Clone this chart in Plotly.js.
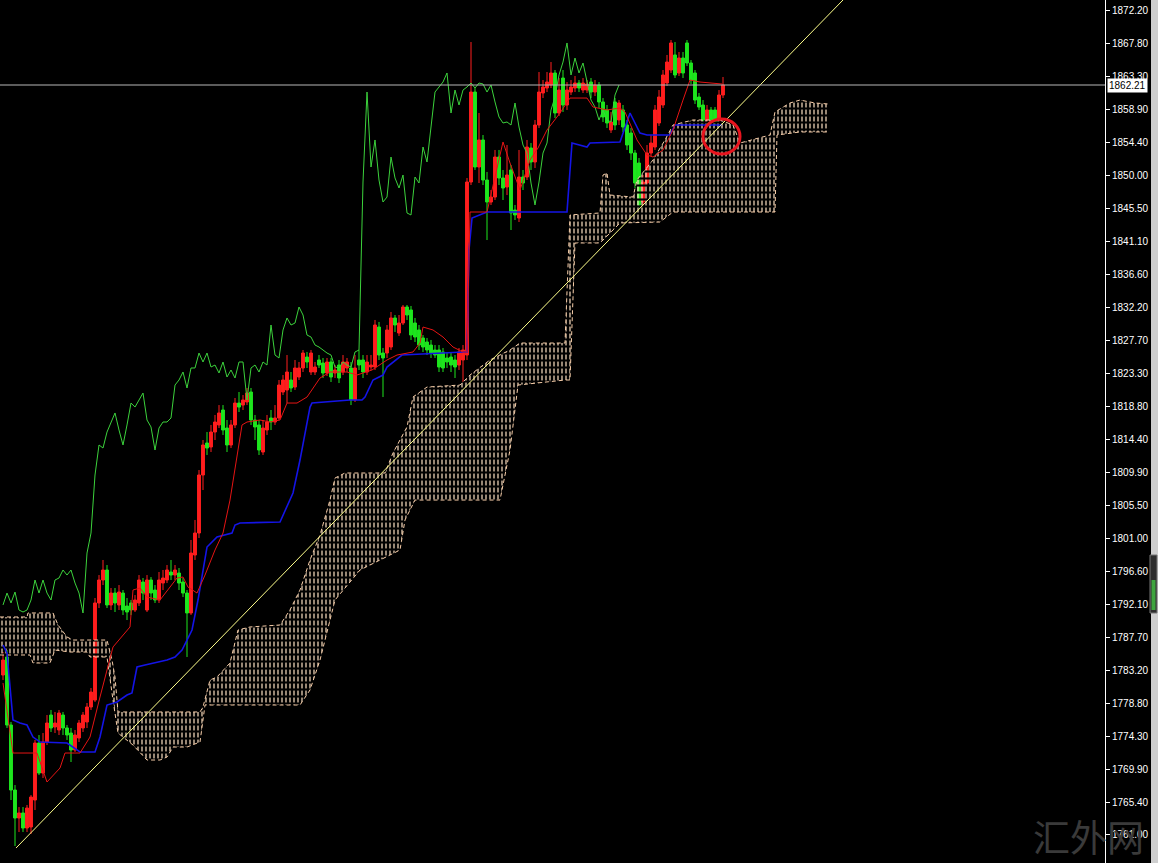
<!DOCTYPE html>
<html>
<head>
<meta charset="utf-8">
<script src="https://cdn.plot.ly/plotly-3.0.1.min.js"></script>
<style>html,body{margin:0;padding:0;background:#000;}#chart{width:1158px;height:863px;}</style>
</head>
<body>
<div id="chart"></div>
<script>
// ---- candle data (bar index = position in arrays) ----
const opens = [1782.59,1785.02,1775.84,1767.07,1763.29,1763.97,1761.94,1762.08,1765.72,1773.41,1769.36,1773.55,1777.19,1775.57,1775.17,1777.19,1775.44,1774.76,1772.47,1774.09,1775.44,1776.25,1778.27,1779.21,1792.31,1795.41,1796.76,1792.04,1793.65,1792.04,1793.65,1791.90,1792.31,1791.36,1792.31,1795.14,1791.36,1795.41,1794.06,1792.71,1795.00,1795.41,1796.49,1796.08,1796.35,1795.14,1793.65,1790.96,1798.78,1801.75,1809.58,1813.90,1813.36,1815.38,1816.33,1818.35,1815.92,1813.63,1816.33,1819.29,1819.02,1819.43,1820.78,1817.00,1816.33,1812.68,1815.65,1817.27,1816.73,1817.27,1820.78,1821.05,1822.40,1821.45,1822.80,1824.02,1825.50,1823.48,1823.48,1825.10,1824.69,1823.34,1824.83,1823.34,1824.42,1823.48,1824.02,1824.02,1819.70,1825.10,1825.10,1823.48,1824.15,1824.15,1829.55,1826.04,1826.04,1826.85,1830.77,1828.74,1830.09,1832.25,1831.85,1830.09,1829.15,1828.07,1827.53,1827.12,1826.45,1826.45,1826.18,1825.37,1825.50,1825.10,1824.42,1825.10,1825.77,1849.12,1861.26,1851.14,1854.79,1849.39,1846.42,1847.09,1852.49,1849.66,1848.44,1850.74,1845.34,1844.26,1849.79,1849.79,1853.71,1851.82,1856.81,1861.13,1861.80,1862.21,1863.83,1858.43,1863.15,1859.51,1861.26,1861.80,1862.48,1861.53,1861.53,1862.61,1861.26,1862.21,1859.92,1858.84,1856.14,1859.92,1857.49,1858.84,1856.81,1855.73,1853.03,1851.68,1846.42,1848.98,1853.03,1853.84,1857.08,1859.51,1862.48,1864.23,1866.26,1863.83,1865.85,1867.88,1865.18,1863.83,1860.59,1859.51,1857.49,1858.84,1858.84,1857.49,1860.86];
const highs = [1785.69,1785.96,1776.25,1767.74,1764.77,1764.77,1765.05,1766.39,1773.82,1774.49,1774.76,1777.19,1777.87,1777.60,1777.87,1777.60,1775.84,1775.44,1775.17,1776.52,1777.60,1778.81,1780.83,1792.98,1796.08,1798.11,1797.43,1794.33,1794.33,1794.73,1794.06,1792.98,1792.71,1793.38,1796.08,1795.68,1796.08,1795.81,1794.73,1796.49,1796.76,1797.43,1798.11,1797.43,1797.03,1795.68,1794.06,1800.81,1803.51,1810.25,1814.30,1815.38,1816.33,1817.68,1819.02,1819.02,1817.00,1817.00,1819.97,1820.78,1820.37,1821.32,1821.32,1817.68,1817.00,1817.00,1817.68,1818.35,1819.02,1822.40,1823.07,1825.77,1823.48,1825.10,1824.83,1826.45,1826.18,1826.45,1824.83,1825.77,1825.37,1825.37,1825.37,1824.42,1825.10,1825.77,1825.37,1824.83,1825.77,1826.45,1825.77,1825.77,1825.77,1830.50,1830.23,1826.72,1829.82,1831.58,1831.17,1831.17,1832.52,1832.52,1832.39,1830.77,1829.82,1828.47,1828.07,1827.80,1827.12,1827.12,1826.72,1826.18,1826.18,1825.77,1826.72,1827.12,1849.66,1868.01,1861.80,1858.43,1855.46,1850.47,1848.04,1853.44,1853.44,1850.74,1854.11,1851.41,1846.02,1853.44,1850.74,1854.79,1854.38,1857.49,1863.96,1862.88,1863.96,1865.31,1864.23,1863.15,1864.23,1862.61,1862.88,1863.42,1862.88,1863.15,1862.88,1863.15,1862.88,1862.61,1860.45,1859.51,1858.57,1860.45,1860.18,1859.51,1857.49,1856.41,1853.44,1852.36,1850.06,1854.11,1855.46,1859.51,1861.53,1864.23,1866.26,1868.28,1868.01,1866.66,1866.66,1868.28,1865.58,1864.23,1861.13,1860.18,1859.51,1859.24,1859.24,1861.53,1863.29];
const lows = [1781.91,1775.44,1765.72,1759.51,1761.40,1761.40,1761.40,1761.13,1764.37,1769.09,1768.69,1773.14,1774.90,1774.76,1774.49,1774.49,1773.82,1770.85,1772.20,1773.55,1774.90,1775.44,1777.87,1778.95,1791.63,1794.73,1791.63,1791.36,1791.09,1791.36,1790.69,1790.01,1790.69,1791.09,1791.90,1792.71,1791.09,1792.71,1792.31,1792.31,1794.06,1795.00,1795.41,1795.41,1794.06,1793.11,1785.02,1790.69,1798.11,1801.08,1807.55,1812.28,1812.68,1814.30,1815.92,1814.98,1812.68,1813.22,1815.92,1818.08,1818.35,1819.02,1816.33,1814.30,1812.28,1812.28,1814.98,1815.65,1816.33,1817.00,1820.37,1819.29,1820.78,1821.05,1822.40,1823.48,1824.02,1823.07,1823.07,1824.02,1822.67,1822.94,1822.13,1822.67,1821.99,1823.07,1823.48,1819.02,1819.43,1823.75,1822.67,1823.07,1823.75,1823.75,1825.10,1820.10,1825.37,1826.45,1828.88,1828.34,1829.82,1830.50,1827.80,1827.53,1826.45,1826.18,1825.77,1825.37,1825.37,1823.48,1823.48,1824.02,1823.48,1822.67,1823.75,1822.13,1825.10,1848.71,1850.74,1848.98,1848.71,1841.29,1846.02,1846.69,1848.71,1846.69,1847.36,1842.64,1843.99,1843.72,1848.04,1849.39,1850.74,1851.01,1856.41,1860.45,1861.26,1861.80,1857.76,1858.03,1858.57,1858.84,1860.86,1861.26,1861.26,1861.13,1861.13,1860.45,1860.72,1859.11,1857.22,1856.41,1855.73,1856.14,1856.81,1855.87,1853.44,1852.09,1848.31,1845.61,1846.02,1848.58,1852.63,1853.44,1856.68,1859.11,1862.07,1863.83,1863.15,1863.42,1863.15,1864.77,1862.34,1859.65,1858.84,1856.95,1857.08,1857.08,1856.81,1857.08,1860.45];
const closes = [1784.61,1775.84,1767.07,1763.29,1763.97,1761.94,1764.64,1766.12,1773.41,1769.36,1773.55,1776.11,1775.44,1776.11,1777.46,1775.44,1774.49,1772.47,1774.49,1776.11,1777.19,1778.27,1780.29,1792.31,1795.41,1796.76,1792.04,1793.65,1792.31,1793.79,1791.36,1791.09,1791.36,1792.71,1795.41,1793.65,1795.41,1793.65,1792.71,1795.41,1795.68,1796.76,1796.08,1796.76,1795.00,1793.65,1790.96,1799.05,1801.75,1809.58,1813.63,1813.22,1815.38,1816.73,1817.95,1815.65,1813.63,1816.33,1819.29,1818.75,1819.70,1820.64,1817.00,1816.06,1812.95,1815.92,1816.73,1816.73,1817.27,1821.72,1822.40,1823.48,1821.32,1824.02,1824.02,1826.04,1824.83,1826.04,1824.15,1824.42,1823.34,1824.83,1822.80,1823.75,1822.67,1824.83,1824.83,1819.70,1824.02,1824.42,1823.48,1824.83,1824.42,1829.82,1825.77,1825.37,1829.15,1830.77,1829.82,1830.09,1832.25,1831.17,1828.47,1828.20,1827.12,1826.85,1826.45,1826.04,1825.77,1824.15,1824.02,1824.83,1824.42,1824.15,1826.18,1826.45,1849.12,1861.26,1851.14,1854.79,1849.39,1846.42,1847.09,1852.49,1849.66,1848.31,1850.06,1844.94,1844.67,1849.79,1848.98,1853.84,1851.82,1856.81,1861.26,1861.94,1862.61,1863.83,1858.43,1861.53,1859.51,1861.53,1861.94,1862.48,1861.80,1862.48,1862.34,1861.26,1862.21,1859.92,1857.89,1857.08,1857.22,1856.81,1859.78,1856.54,1854.11,1853.03,1848.98,1846.02,1849.12,1853.03,1854.38,1858.84,1860.59,1863.56,1865.31,1867.88,1863.56,1865.85,1863.83,1865.18,1862.88,1860.18,1859.24,1857.49,1858.84,1857.49,1857.22,1860.86,1862.21];

// ---- Ichimoku lines (bar index, price) ----
const tenkanX = [0,2.5,8.5,10,11,14.25,15.5,19.25,21.75,24.25,26.75,27.5,31.75,32.5,34.25,36,39.25,41.75,43.5,45,46.25,48.5,50.5,53,55,56.75,58.75,59.75,61,64.25,66.75,69.25,71,73.5,76,77.5,79.25,81.75,86,88.5,92.25,96,98.5,102.5,104.25,105,107.5,110,112.5,115,116,116.75,121,125,126.75,129.25,131.75,133.75,136,139.25,141.75,146,147.5,151,154.25,155.5,158.5,161,162.5,165,167.5,170,171.75,174.25,176.75,179.75];
const tenkanY = [1781.51,1772.06,1772.06,1769.77,1768.15,1770.04,1772.06,1772.06,1774.22,1779.62,1785.02,1786.37,1789.07,1794.06,1794.33,1793.11,1792.71,1794.46,1795.68,1795.81,1794.46,1793.65,1796.08,1799.46,1801.75,1806.20,1812.95,1816.33,1816.73,1817.00,1816.73,1817.00,1819.29,1819.29,1820.10,1821.32,1822.67,1823.48,1823.48,1823.07,1823.75,1825.10,1825.77,1826.18,1827.39,1829.55,1829.15,1828.20,1826.85,1826.18,1826.18,1845.07,1845.07,1854.52,1851.68,1848.04,1852.09,1853.71,1856.14,1858.43,1860.45,1860.45,1859.24,1858.84,1859.11,1858.57,1854.79,1852.76,1852.49,1853.44,1856.14,1860.18,1862.88,1862.61,1862.48,1862.34];
const kijunX = [0,1,2.5,4.25,6,7.5,9.25,16,19.25,23,24.25,26,28.5,31,32.25,33.5,35.5,41,43,44.75,46.25,47.25,48.75,51,53.5,57.25,58,59.25,69.25,71,72.5,74.25,76.75,77.25,86.75,89.75,90.5,92.5,95,96,99.25,99.75,115,116,116.5,117.25,121,141,142.25,146,146.75,154.25,156.75,159.25,161,166.75,168,179.75];
const kijunY = [1786.64,1785.56,1776.52,1776.11,1775.84,1774.22,1773.55,1773.41,1772.20,1772.20,1774.22,1778.54,1778.95,1779.89,1780.16,1783.67,1783.94,1784.61,1785.02,1785.96,1787.58,1788.66,1792.71,1799.86,1801.21,1801.75,1802.83,1803.10,1803.24,1805.26,1807.15,1811.60,1818.75,1819.29,1819.70,1819.70,1820.10,1822.40,1823.07,1824.15,1825.50,1825.77,1826.18,1826.18,1839.94,1844.26,1845.07,1845.07,1854.38,1853.84,1854.38,1854.52,1858.43,1855.73,1855.46,1855.46,1856.81,1856.81];
const CHIKOU_SHIFT = 26;

// ---- Kumo (cloud) envelope ----
const cloudTopX = [-0.75,6,6.25,12.5,13.75,16,17.5,26,27.25,28,28.75,49.25,50,51.75,53.5,56.75,58.75,61.75,69.25,71.75,74.25,76.75,79.25,81.75,83,85.5,95.5,97.5,101,102.5,106,114.25,116.75,121.75,126.75,129.25,140.5,141.75,149.25,150,151,151.75,157.5,158.5,162.5,165.5,167.5,172.5,179.25,182.5,184.25,191.75,193,196.75,199.25,203,206.25];
const cloudTopY = [1790.42,1790.42,1790.96,1790.96,1789.34,1787.72,1787.31,1787.31,1784.61,1782.32,1777.60,1777.60,1778.27,1781.91,1782.32,1784.21,1788.66,1789.07,1789.34,1791.36,1794.06,1798.11,1801.48,1806.20,1809.17,1809.85,1809.85,1812.55,1816.06,1820.10,1821.45,1821.72,1823.07,1825.10,1826.45,1827.39,1827.39,1844.67,1844.94,1850.06,1850.33,1847.36,1847.09,1849.39,1852.09,1854.79,1856.81,1857.49,1857.49,1856.81,1854.38,1855.46,1858.57,1859.78,1860.18,1859.78,1859.65];
const cloudBotX = [-0.75,6.75,7.5,11.75,13,16.75,21,21.75,26,26.75,27.5,28.75,32.5,36,39.25,41,42.5,46,49.25,50.5,74.25,76.75,79.25,83,89.25,99.25,100.5,103,124.25,126.75,128.75,140.5,141.75,143,149.25,154.25,164.25,167.5,193,193.5,199.25,206.25];
const cloudBotY = [1785.29,1785.29,1784.21,1784.21,1785.96,1785.69,1785.69,1785.02,1785.02,1781.91,1779.21,1774.76,1773.14,1771.12,1771.12,1771.52,1772.87,1772.87,1773.55,1778.54,1778.54,1780.57,1784.61,1792.71,1796.76,1799.46,1803.51,1806.20,1806.20,1812.95,1821.72,1822.40,1822.40,1840.89,1840.89,1843.59,1843.72,1845.07,1845.07,1855.46,1855.87,1855.87];

// ---- trend line anchors (bar index, price) ----
const trendX = [3.25, 210];
const trendY = [1759.24, 1873.68];

// ---- price axis ticks ----
const tickVals = [1872.20,1867.80,1863.30,1858.90,1854.40,1850.00,1845.50,1841.10,1836.60,1832.20,1827.70,1823.30,1818.80,1814.40,1809.90,1805.50,1801.00,1796.60,1792.10,1787.70,1783.20,1778.80,1774.30,1769.90,1765.40,1761.00];
const tickText = tickVals.map(v => v.toFixed(2));

const idx = closes.map((_, i) => i);
const chikouY = closes.slice(CHIKOU_SHIFT);
const chikouX = chikouY.map((_, i) => i);
const lastClose = closes[closes.length - 1];

const cloudPolyX = cloudTopX.concat(cloudBotX.slice().reverse());
const cloudPolyY = cloudTopY.concat(cloudBotY.slice().reverse());
const PEACH = '#FFE2C4';

const traces = [
  {type:'scatter', mode:'lines', x:cloudPolyX, y:cloudPolyY, fill:'toself', fillcolor:'rgba(0,0,0,0)',
   fillpattern:{shape:'|', fgcolor:PEACH, size:4, solidity:0.3}, line:{width:0}, hoverinfo:'skip'},
  {type:'scatter', mode:'lines', x:cloudPolyX, y:cloudPolyY, fill:'toself', fillcolor:'rgba(0,0,0,0)',
   fillpattern:{shape:'-', fgcolor:'#000000', size:7, solidity:0.3}, line:{width:0}, hoverinfo:'skip'},
  {type:'scatter', mode:'lines', x:cloudTopX, y:cloudTopY, line:{color:'#F7CDA8', width:1, dash:'4px,3px'}, hoverinfo:'skip'},
  {type:'scatter', mode:'lines', x:cloudBotX, y:cloudBotY, line:{color:'#F7CDA8', width:1, dash:'4px,3px'}, hoverinfo:'skip'},
  {type:'scatter', mode:'lines', x:chikouX, y:chikouY, line:{color:'#3CD23C', width:1}, hoverinfo:'skip'},
  {type:'scatter', mode:'lines', x:kijunX, y:kijunY, line:{color:'#1414E6', width:1.6}, hoverinfo:'skip'},
  {type:'scatter', mode:'lines', x:tenkanX, y:tenkanY, line:{color:'#E61414', width:1}, hoverinfo:'skip'},
  {type:'candlestick', x:idx, open:opens, high:highs, low:lows, close:closes,
   increasing:{line:{color:'#FF1E1E', width:1}, fillcolor:'#FF1E1E'},
   decreasing:{line:{color:'#1EE61E', width:1}, fillcolor:'#1EE61E'},
   whiskerwidth:0, hoverinfo:'skip'},
  {type:'scatter', mode:'lines', x:trendX, y:trendY, line:{color:'#FFFF8C', width:1}, hoverinfo:'skip'}
];

const W = 1158, H = 863, PW = 1105;
const layout = {
  width:W, height:H,
  margin:{l:0, r:W-PW, t:0, b:0, pad:0},
  paper_bgcolor:'#000000', plot_bgcolor:'#000000',
  showlegend:false,
  boxgap:0.15, boxgroupgap:0.15,
  xaxis:{range:[-0.75, 275.5], visible:false, rangeslider:{visible:false}, fixedrange:true},
  yaxis:{range:[1757.22, 1873.68], side:'right', tickmode:'array', tickvals:tickVals, ticktext:tickText,
         ticks:'outside', ticklen:4, tickcolor:'#FFFFFF', tickwidth:1,
         showline:true, linecolor:'#FFFFFF', linewidth:1, showgrid:false, zeroline:false,
         tickfont:{family:'Liberation Sans, Arial, sans-serif', size:10, color:'#FFFFFF'}, fixedrange:true},
  shapes:[
    {type:'line', xref:'paper', x0:0, x1:1, yref:'y', y0:lastClose, y1:lastClose, line:{color:'#B8B8B8', width:1}},
    {type:'circle', xref:'x', yref:'y', x0:175, x1:184.25, y0:1852.9, y1:1857.62, line:{color:'#E8141E', width:3}},
    {type:'rect', xref:'paper', yref:'paper', x0:1151/PW, x1:1158/PW, y0:0, y1:1, fillcolor:'#CFCFCF', line:{width:0}, layer:'above'},
    {type:'rect', xref:'paper', yref:'paper', x0:1150/PW, x1:1157/PW, y0:1-613/H, y1:1-555/H, fillcolor:'#2E2E2E', line:{color:'#777777', width:1}, layer:'above'},
    {type:'rect', xref:'paper', yref:'paper', x0:1151.5/PW, x1:1155.5/PW, y0:1-610/H, y1:1-580/H, fillcolor:'#3FA43F', line:{width:0}, layer:'above'}
  ],
  annotations:[
    {xref:'paper', x:1+2/PW, xanchor:'left', yref:'y', y:lastClose, yanchor:'middle', text:lastClose.toFixed(2), showarrow:false,
     bgcolor:'#FFFFFF', font:{family:'Liberation Sans, Arial, sans-serif', size:10, color:'#000000'}, borderpad:1},
    {xref:'paper', x:1088/PW, xanchor:'center', yref:'paper', y:1-836/H, yanchor:'middle', text:'汇外网', showarrow:false,
     font:{family:'Noto Sans CJK SC, sans-serif', size:37, color:'#3A3A3A'}}
  ]
};

Plotly.newPlot('chart', traces, layout, {displayModeBar:false, staticPlot:true});
</script>
</body>
</html>
